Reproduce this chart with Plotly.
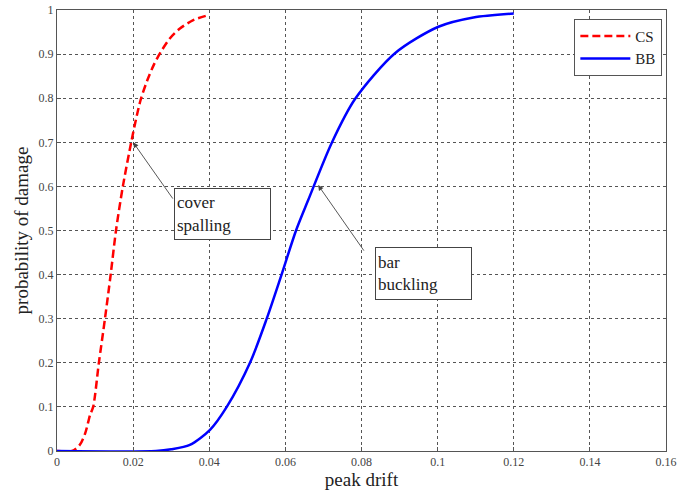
import plotly.graph_objects as go

# CS: cover spalling fragility
cs_drift = [0, 0.004, 0.006, 0.0074, 0.0087, 0.0095, 0.011, 0.0126, 0.0141, 0.0155,
            0.0173, 0.0195, 0.0207, 0.0220, 0.0237, 0.0254, 0.0272, 0.0297, 0.0323, 0.0358, 0.04]
cs_prob = [0, 0, 0.014, 0.04, 0.082, 0.1, 0.2, 0.3, 0.4, 0.5,
           0.6, 0.7, 0.75, 0.797, 0.84, 0.875, 0.904, 0.936, 0.958, 0.977, 0.989]

# BB: bar buckling fragility
bb_drift = [0, 0.026, 0.03, 0.0349, 0.0402, 0.0446, 0.0507, 0.0551, 0.059, 0.0628,
            0.066, 0.0722, 0.0783, 0.0888, 0.1002, 0.1094, 0.12]
bb_prob = [0, 0, 0.004, 0.014, 0.048, 0.1, 0.2, 0.3, 0.4, 0.5,
           0.569, 0.699, 0.798, 0.902, 0.962, 0.983, 0.992]

x_ticks = [0, 0.02, 0.04, 0.06, 0.08, 0.1, 0.12, 0.14, 0.16]
x_labels = ["0", "0.02", "0.04", "0.06", "0.08", "0.1", "0.12", "0.14", "0.16"]
y_ticks = [0, 0.1, 0.2, 0.3, 0.4, 0.5, 0.6, 0.7, 0.8, 0.9, 1]
y_labels = ["0", "0.1", "0.2", "0.3", "0.4", "0.5", "0.6", "0.7", "0.8", "0.9", "1"]

SERIF = "Liberation Serif"

fig = go.Figure()
fig.add_trace(go.Scatter(x=cs_drift, y=cs_prob, mode="lines", name="CS",
                         line=dict(color="#ff0000", width=2.5, dash="8px,4px", shape="spline", smoothing=0.8)))
fig.add_trace(go.Scatter(x=bb_drift, y=bb_prob, mode="lines", name="BB",
                         line=dict(color="#0000ff", width=2.5, shape="spline", smoothing=0.8)))

axis_common = dict(showline=True, mirror=True, linecolor="#555555", linewidth=1,
                   showgrid=True, gridcolor="#555555", griddash="dot", gridwidth=1,
                   zeroline=False, ticks="inside", ticklen=4, tickcolor="#555555",
                   automargin=False,
                   tickfont=dict(family=SERIF, size=12, color="#444444"))

fig.update_xaxes(range=[0, 0.16], tickvals=x_ticks, ticktext=x_labels,
                 title=dict(text="peak drift", font=dict(family=SERIF, size=19, color="#222222"), standoff=2),
                 **axis_common)
fig.update_yaxes(range=[0, 1], tickvals=y_ticks, ticktext=y_labels,
                 title=dict(text="probability of damage", font=dict(family=SERIF, size=19, color="#222222"), standoff=4),
                 **axis_common)

# arrows
fig.add_annotation(x=0.02, y=0.70, ax=0.0307, ay=0.569, axref="x", ayref="y", xref="x", yref="y",
                   text="", showarrow=True, arrowhead=2, arrowsize=1.2, arrowwidth=0.9, arrowcolor="#444444")
fig.add_annotation(x=0.0686, y=0.603, ax=0.0809, ay=0.451, axref="x", ayref="y", xref="x", yref="y",
                   text="", showarrow=True, arrowhead=2, arrowsize=1.2, arrowwidth=0.9, arrowcolor="#444444")
# boxes
fig.add_annotation(x=0.0435, y=0.537, xref="x", yref="y", text="cover<br>spalling", showarrow=False,
                   align="left", width=91, height=46, borderpad=2, bordercolor="#444444", borderwidth=1,
                   bgcolor="white", font=dict(family=SERIF, size=17, color="#222222"))
fig.add_annotation(x=0.0963, y=0.4025, xref="x", yref="y", text="bar<br>buckling", showarrow=False,
                   align="left", width=91, height=47, borderpad=2, bordercolor="#444444", borderwidth=1,
                   bgcolor="white", font=dict(family=SERIF, size=17, color="#222222"))

fig.update_layout(width=677, height=490, margin=dict(l=57, r=11, t=10, b=39),
                  paper_bgcolor="white", plot_bgcolor="white",
                  legend=dict(x=0.994, y=0.98, xanchor="right", yanchor="top",
                              bordercolor="#555555", borderwidth=1, bgcolor="white",
                              font=dict(family=SERIF, size=15, color="#222222"),
                              tracegroupgap=0, itemwidth=50))

fig.write_html("out.html")
